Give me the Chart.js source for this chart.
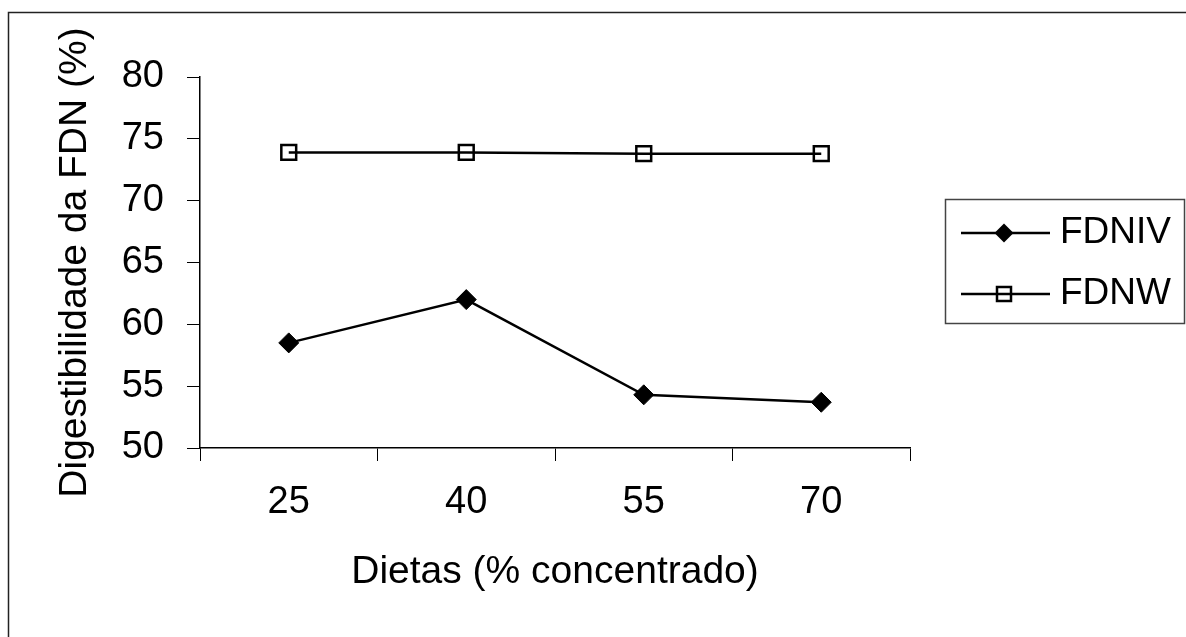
<!DOCTYPE html>
<html>
<head>
<meta charset="utf-8">
<script src="https://cdn.jsdelivr.net/npm/chart.js@4.4.1/dist/chart.umd.min.js"></script>
<style>
  html, body { margin: 0; padding: 0; background: #fff; }
  canvas { display: block; }
</style>
</head>
<body>
<canvas id="grafico" width="1186" height="637"></canvas>
<script>
// datos
const dietas = ['25', '40', '55', '70'];
const fdniv = [58.5, 62.0, 54.3, 53.7];
const fdnw = [73.9, 73.9, 73.8, 73.8];
const nombresSeries = ['FDNIV', 'FDNW'];

const fuente = "'Liberation Sans', Arial, sans-serif";

// marco exterior y leyenda dibujados a mano
const marcoYLeyenda = {
  id: 'marcoYLeyenda',
  afterDraw(chart) {
    const ctx = chart.ctx;
    ctx.save();
    // marco (solo arriba e izquierda)
    ctx.strokeStyle = '#222';
    ctx.lineWidth = 1.5;
    ctx.beginPath();
    ctx.moveTo(8.5, 637);
    ctx.lineTo(8.5, 12.5);
    ctx.lineTo(1186, 12.5);
    ctx.stroke();

    // caja de la leyenda
    ctx.strokeStyle = '#444';
    ctx.lineWidth = 1.5;
    ctx.strokeRect(945.5, 199.5, 239, 124);

    const filas = [233, 294];
    chart.data.datasets.forEach((ds, i) => {
      let y = filas[i];
      ctx.strokeStyle = '#000';
      ctx.lineWidth = 2.5;
      ctx.beginPath();
      ctx.moveTo(961, y);
      ctx.lineTo(1050, y);
      ctx.stroke();
      if (ds.pointStyle === 'rectRot') {
        ctx.fillStyle = '#000';
        ctx.beginPath();
        ctx.moveTo(1004 - 9.5, y);
        ctx.lineTo(1004, y - 9.5);
        ctx.lineTo(1004 + 9.5, y);
        ctx.lineTo(1004, y + 9.5);
        ctx.closePath();
        ctx.fill();
      } else {
        ctx.lineWidth = 2.5;
        ctx.strokeRect(1004 - 7, y - 7, 14, 14);
      }
      ctx.fillStyle = '#000';
      ctx.font = '37px ' + fuente;
      ctx.textAlign = 'left';
      ctx.textBaseline = 'middle';
      ctx.fillText(ds.label, 1060, y);
    });
    ctx.restore();
  }
};

let grafico = new Chart(document.getElementById('grafico').getContext('2d'), {
  type: 'line',
  data: {
    labels: dietas,
    datasets: [{
      label: nombresSeries[0],
      data: fdniv,
      borderColor: '#000',
      borderWidth: 2.5,
      backgroundColor: '#000',
      pointStyle: 'rectRot',
      pointRadius: 10,
      pointBorderWidth: 1,
      pointBorderColor: '#000',
      pointBackgroundColor: '#000',
      tension: 0,
      fill: false
    }, {
      label: nombresSeries[1],
      data: fdnw,
      borderColor: '#000',
      borderWidth: 2.5,
      backgroundColor: 'transparent',
      pointStyle: 'rect',
      pointRadius: 10.5,
      pointBorderWidth: 2.5,
      pointBorderColor: '#000',
      pointBackgroundColor: 'transparent',
      tension: 0,
      fill: false
    }]
  },
  options: {
    responsive: false,
    animation: false,
    events: [],
    layout: {
      padding: { left: 0, top: 77, right: 276, bottom: 0 }
    },
    plugins: {
      legend: { display: false },
      tooltip: { enabled: false },
      title: { display: false }
    },
    scales: {
      x: {
        type: 'category',
        offset: true,
        afterFit: (scale) => { scale.height = 189; },
        grid: {
          offset: true,
          drawOnChartArea: false,
          tickLength: 13,
          color: '#000',
          lineWidth: 1
        },
        border: { display: true, color: '#000', width: 1.5 },
        ticks: {
          color: '#000',
          padding: 19,
          font: { family: fuente, size: 38 }
        },
        title: {
          display: true,
          text: 'Dietas (% concentrado)',
          color: '#000',
          font: { family: fuente, size: 39 },
          padding: { top: 0, bottom: 41 }
        }
      },
      y: {
        min: 50,
        max: 80,
        afterFit: (scale) => { scale.width = 200; },
        grid: {
          drawOnChartArea: false,
          tickLength: 13,
          color: '#000',
          lineWidth: 1
        },
        border: { display: true, color: '#000', width: 1.5 },
        ticks: {
          stepSize: 5,
          color: '#000',
          padding: 23,
          font: { family: fuente, size: 38 }
        },
        title: {
          display: true,
          text: 'Digestibilidade da FDN (%)',
          color: '#000',
          font: { family: fuente, size: 39 },
          padding: { top: 52, bottom: 0 }
        }
      }
    }
  },
  plugins: [marcoYLeyenda]
});
</script>
</body>
</html>
